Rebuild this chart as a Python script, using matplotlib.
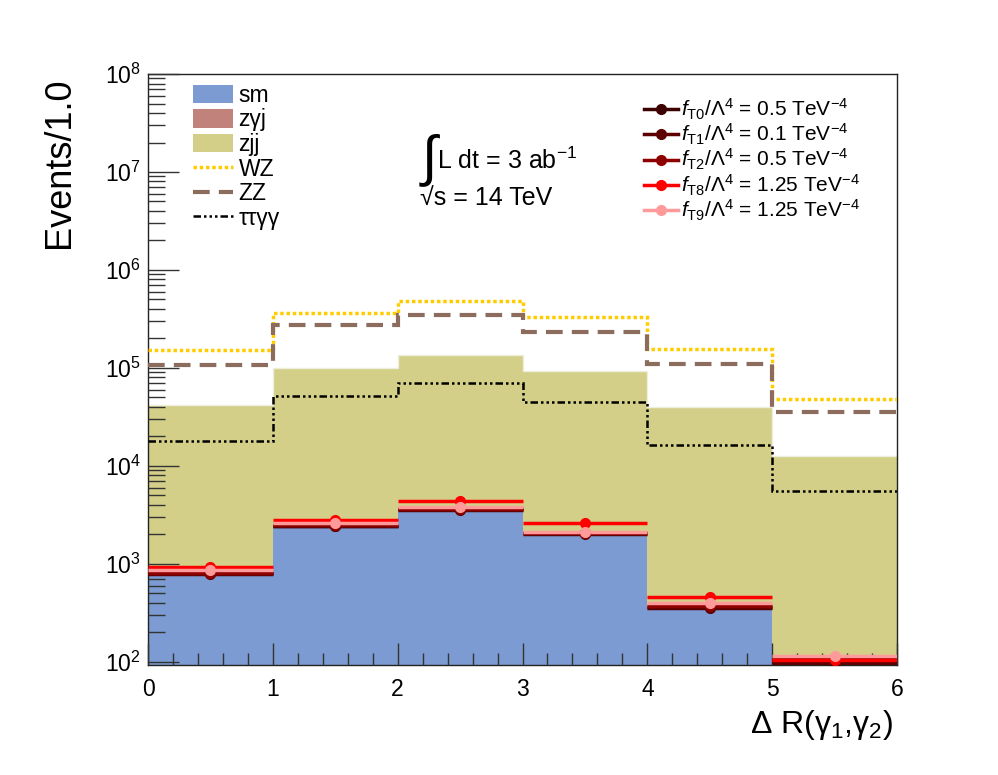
import numpy as np
import matplotlib
matplotlib.use("Agg")
import matplotlib.pyplot as plt
from matplotlib.patches import Patch
from matplotlib.lines import Line2D

plt.rcParams['font.family'] = ['Liberation Sans', 'DejaVu Sans']
plt.rcParams['mathtext.fontset'] = 'custom'
plt.rcParams['mathtext.rm'] = 'Liberation Sans'
plt.rcParams['mathtext.it'] = 'Liberation Sans:italic'
plt.rcParams['mathtext.bf'] = 'Liberation Sans:bold'

# ---- data ----
edges = [0, 1, 2, 3, 4, 5, 6]
sm = [760, 2400, 3550, 2020, 340, 85]
zgj = [25, 60, 90, 50, 12, 4]
zjj = [40900, 96800, 131300, 90400, 39400, 12500]
wz = [151000, 360000, 488000, 335000, 155000, 48400]
zz = [108000, 272000, 351000, 234000, 111000, 35400]
ttgg = [17800, 51500, 69800, 44800, 16500, 5600]

sig_labels = [r'$f_{\rm T0}/\Lambda^{4}$ = 0.5 TeV$^{-4}$',
              r'$f_{\rm T1}/\Lambda^{4}$ = 0.1 TeV$^{-4}$',
              r'$f_{\rm T2}/\Lambda^{4}$ = 0.5 TeV$^{-4}$',
              r'$f_{\rm T8}/\Lambda^{4}$ = 1.25 TeV$^{-4}$',
              r'$f_{\rm T9}/\Lambda^{4}$ = 1.25 TeV$^{-4}$']
sig_T0 = [800, 2450, 3600, 2050, 360, 100]
sig_T1 = [790, 2440, 3590, 2040, 355, 98]
sig_T2 = [810, 2470, 3620, 2060, 372, 107]
sig_T8 = [940, 2820, 4440, 2600, 457, 105]
sig_T9 = [875, 2600, 3800, 2100, 404, 115]
sig_colors = ['#3d0000', '#5c0000', '#8e0000', '#ff0000', '#ff9a9a']

# ---- figure ----
fig = plt.figure(figsize=(9.98, 7.75), dpi=100)
ax = fig.add_axes([0.1483, 0.1419, 0.7505, 0.7626])
ax.set_yscale('log')

e = np.array(edges, dtype=float)
sm_a = np.array(sm, float)
zgj_a = sm_a + np.array(zgj, float)
zjj_a = zgj_a + np.array(zjj, float)

c_sm = '#7b9bd2'
c_zgj = '#c0827a'
c_zjj = '#d3cf88'
ls_wz = (0, (1, 0.8))
ls_zz = (0, (4, 2.2))
ls_tt = (0, (3, 1.2, 1, 1.2, 1, 1.2, 1, 1.2))
ax.stairs(zjj_a, e, baseline=zgj_a, fill=True, color=c_zjj, zorder=1)
ax.stairs(zjj_a, e, baseline=None, color='#eeeedd', lw=1, zorder=1.1)
ax.stairs(zgj_a, e, baseline=sm_a, fill=True, color=c_zgj, zorder=1)
ax.stairs(sm_a, e, baseline=1e-2, fill=True, color=c_sm, zorder=1)

ax.stairs(wz, e, baseline=None, color='#ffcc00', lw=2.5, ls=ls_wz, zorder=3)
ax.stairs(zz, e, baseline=None, color='#8c6c5c', lw=3, ls=ls_zz, zorder=3)
ax.stairs(ttgg, e, baseline=None, color='black', lw=1.8, ls=ls_tt, zorder=3)

centers = (e[:-1] + e[1:]) / 2
sigs = [sig_T0, sig_T1, sig_T2, sig_T8, sig_T9]
sig_handles = []
for vals, col in zip(sigs, sig_colors):
    ax.errorbar(centers, vals, xerr=0.5, fmt='o', color=col, ms=7,
                elinewidth=2.5, capsize=0, zorder=4)
    sig_handles.append(Line2D([0], [0], color=col, lw=2.5, marker='o', ms=7))

ax.set_xlim(0, 6)
ax.set_ylim(93, 1e8)

# ticks ROOT style
ax.tick_params(axis='both', which='both', direction='in', top=False, right=False,
               labelsize=16.5, color='#333333')
ax.tick_params(axis='y', which='major', length=22, width=1, pad=5)
ax.tick_params(axis='y', which='minor', length=12, width=1)
ax.tick_params(axis='x', which='major', length=16, width=1, pad=9)
ax.tick_params(axis='x', which='minor', length=9, width=1)
ax.set_xticks([0, 1, 2, 3, 4, 5, 6])
ax.set_xticks(np.arange(0, 6.01, 0.2), minor=True)
ax.set_yticks([1e2, 1e3, 1e4, 1e5, 1e6, 1e7, 1e8])
ax.set_yticklabels([r'$10^{%d}$' % k for k in range(2, 9)])
ax.yaxis.set_minor_locator(matplotlib.ticker.LogLocator(base=10, subs=np.arange(2, 10), numticks=20))
ax.yaxis.set_minor_formatter(matplotlib.ticker.NullFormatter())
for s in ax.spines.values():
    s.set_linewidth(1)
    s.set_color('#222222')
ax.set_axisbelow(False)

fig.text(0.060, 0.900, 'Events/1.0', rotation=90, ha='center', va='top', fontsize=26)
fig.text(0.895, 0.042, '\u0394 R(\u03b3$_{1}$,\u03b3$_{2}$)', ha='right', va='bottom', fontsize=23)

# annotations
fig.text(0.420, 0.793, r'$\int$', fontsize=40, ha='left', va='center')
fig.text(0.438, 0.793, r'L dt = 3 ab$^{-1}$', fontsize=18, ha='left', va='center')
fig.text(0.421, 0.745, '\u221as = 14 TeV', fontsize=18, ha='left', va='center')

# legends
h_left = [Patch(facecolor=c_sm, edgecolor='none'),
          Patch(facecolor=c_zgj, edgecolor='none'),
          Patch(facecolor=c_zjj, edgecolor='none'),
          Line2D([0], [0], color='#ffcc00', lw=2.5, ls=ls_wz),
          Line2D([0], [0], color='#8c6c5c', lw=3, ls=ls_zz),
          Line2D([0], [0], color='black', lw=1.8, ls=ls_tt)]
l_left = ['sm', 'z\u03b3j', 'zjj', 'WZ', 'ZZ', '\u03c4\u03c4\u03b3\u03b3']
fig.legend(h_left, l_left, loc='upper left', bbox_to_anchor=(0.193, 0.892),
           frameon=False, fontsize=16.5, handlelength=1.75, handleheight=0.85,
           handletextpad=0.25, labelspacing=0.07, borderpad=0, borderaxespad=0)

fig.legend(sig_handles, sig_labels, loc='upper left', bbox_to_anchor=(0.645, 0.875),
           frameon=False, fontsize=15, handlelength=1.65, handletextpad=0.15,
           labelspacing=0.0, borderpad=0, borderaxespad=0)

fig.savefig('out.png', dpi=100)
